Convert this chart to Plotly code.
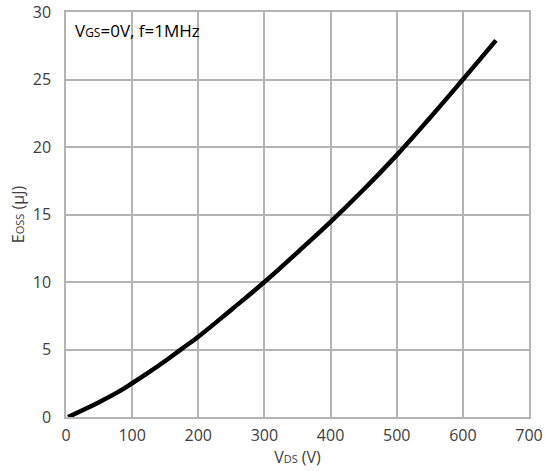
import plotly.graph_objects as go

vds = [3, 25, 50, 75, 100, 125, 150, 175, 200, 250, 300, 350, 400, 450, 500, 550, 600, 650]
eoss = [0.0, 0.5, 1.1, 1.75, 2.5, 3.3, 4.15, 5.05, 5.95, 7.95, 10.0, 12.2, 14.45, 16.85, 19.4, 22.15, 25.0, 27.9]

x_ticks = [0, 100, 200, 300, 400, 500, 600, 700]
y_ticks = [0, 5, 10, 15, 20, 25, 30]

fig = go.Figure()
fig.add_trace(go.Scatter(x=vds, y=eoss, mode="lines",
                         line=dict(color="black", width=4.5, shape="spline", smoothing=1.3),
                         showlegend=False, hoverinfo="skip"))

axis_common = dict(showgrid=True, gridcolor="#b4b4b4", gridwidth=1.5, automargin=False,
                   showline=True, linecolor="#b4b4b4", linewidth=1.5, mirror=True,
                   zeroline=False, ticks="", tickfont=dict(family="Open Sans", size=16, color="#404040"))

fig.update_xaxes(range=[0, 700], tickvals=x_ticks, ticklabelstandoff=3, **axis_common,
                 title=dict(text="V<span style='font-size:11px'>DS</span> (V)",
                            font=dict(family="Open Sans", size=16, color="#404040"), standoff=2))
fig.update_yaxes(range=[0, 30], tickvals=y_ticks, ticklabelstandoff=10, **axis_common,
                 title=dict(text="E<span style='font-size:11px'>OSS</span> (µJ)",
                            font=dict(family="Open Sans", size=16, color="#404040"), standoff=4))

fig.add_annotation(x=0, y=1, xref="paper", yref="paper", xanchor="left", yanchor="top",
                   xshift=7, yshift=-5, showarrow=False,
                   text="V<span style='font-size:12px'>GS</span>=0V, f=1MHz",
                   font=dict(family="Open Sans", size=17, color="black"))

fig.update_layout(width=545, height=471, margin=dict(l=66, r=16, t=12, b=54),
                  plot_bgcolor="white", paper_bgcolor="white")

fig.write_html("out.html", config={"displayModeBar": False},
               post_script="document.body.style.margin='0';")
